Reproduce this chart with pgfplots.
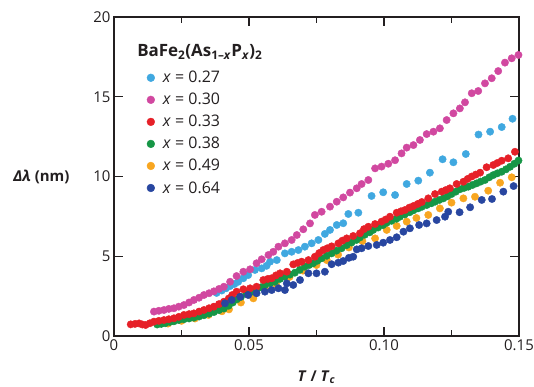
\documentclass[border=0pt]{standalone}
\usepackage{pgfplots}
\pgfplotsset{compat=1.18}
\usepackage{fontspec}
\setmainfont{Open Sans}
\definecolor{cLB}{RGB}{64,168,224}
\definecolor{cMG}{RGB}{209,72,160}
\definecolor{cRD}{RGB}{230,32,40}
\definecolor{cGN}{RGB}{22,150,70}
\definecolor{cOR}{RGB}{248,166,32}
\definecolor{cDB}{RGB}{40,70,160}
\definecolor{ink}{RGB}{35,31,32}
\begin{document}
\begin{tikzpicture}
\useasboundingbox (-114bp,-51bp) rectangle (420bp,336bp);
\begin{axis}[
  scale only axis, width=405bp, height=319bp,
  xmin=0, xmax=0.15, ymin=0, ymax=20,
  xtick={0,0.05,0.1,0.15}, xticklabels={0,0.05,0.10,0.15},
  minor xtick={0.025,0.075,0.125},
  ytick={0,5,10,15,20},
  tick align=inside,
  major tick length=9bp, minor tick length=6bp,
  axis line style={line width=1.2pt, draw=ink},
  every tick/.style={line width=1.1pt, draw=ink},
  ticklabel style={font=\fontsize{15}{18}\selectfont, text=ink},
  /pgf/number format/assume math mode=true,
  xlabel={\textbf{\textit{T} / \textit{T}\textsubscript{\textit{c}}}},
  xlabel style={font=\fontsize{15}{18}\selectfont, text=ink, at={(rel axis cs:0.5,0)}, anchor=center, yshift=-41bp},
  ylabel={\textbf{\textit{Δλ} (nm)}},
  ylabel style={font=\fontsize{15}{18}\selectfont, text=ink, rotate=-90, at={(rel axis cs:0,0.5)}, anchor=east, xshift=-41bp},
  legend image code/.code={\fill[#1] (0bp,0bp) circle (3.9bp);},
  legend style={at={(rel axis cs:0.073,0.843)}, anchor=north west, draw=none, fill=none,
    font=\fontsize{16}{19}\selectfont, text=ink, row sep=5bp,
    nodes={inner xsep=8bp}},
  legend cell align=left,
  every axis plot/.append style={only marks, mark=*, mark size=3.7pt},
]
\addlegendimage{color=cLB}
\addlegendentry{\textit{x} = 0.27}
\addlegendimage{color=cMG}
\addlegendentry{\textit{x} = 0.30}
\addlegendimage{color=cRD}
\addlegendentry{\textit{x} = 0.33}
\addlegendimage{color=cGN}
\addlegendentry{\textit{x} = 0.38}
\addlegendimage{color=cOR}
\addlegendentry{\textit{x} = 0.49}
\addlegendimage{color=cDB}
\addlegendentry{\textit{x} = 0.64}

% x = 0.49 (orange)
\addplot[color=cOR, forget plot] coordinates {
(0.0200,0.78)(0.0250,0.95)(0.0300,1.10)(0.0350,1.32)(0.0400,1.55)(0.0426,1.67)
(0.0470,2.10)(0.0516,2.36)(0.0560,2.95)(0.0600,3.25)(0.0650,3.70)(0.0700,4.10)
(0.0750,4.45)(0.0788,4.76)(0.0830,5.10)(0.0870,5.55)(0.0920,5.95)(0.0967,6.12)
(0.1010,6.65)(0.1047,6.90)(0.1084,7.17)(0.1120,7.40)(0.1164,7.59)(0.1207,8.00)
(0.1250,8.36)(0.1294,8.63)(0.1337,8.73)(0.1386,9.11)(0.1430,9.61)(0.1473,9.95)
};
% x = 0.38 (green)
\addplot[color=cGN, forget plot] coordinates {
(0.0160,0.72)(0.0175,0.76)(0.0190,0.80)(0.0207,0.88)(0.0222,0.92)(0.0240,1.00)
(0.0259,1.05)(0.0278,1.10)(0.0296,1.15)(0.0315,1.22)(0.0333,1.30)(0.0352,1.40)
(0.0370,1.50)(0.0389,1.62)(0.0407,1.72)(0.0425,1.90)(0.0440,2.10)(0.0455,2.30)
(0.0470,2.45)(0.0491,2.65)(0.0510,2.78)(0.0528,2.93)(0.0544,3.05)(0.0559,3.20)
(0.0578,3.30)(0.0596,3.40)(0.0615,3.58)(0.0633,3.72)(0.0652,3.85)(0.0670,3.97)
(0.0688,4.15)(0.0707,4.35)(0.0723,4.45)(0.0738,4.56)(0.0754,4.72)(0.0769,4.87)
(0.0788,5.03)(0.0806,5.18)(0.0824,5.35)(0.0843,5.50)(0.0862,5.70)(0.0880,5.86)
(0.0898,6.02)(0.0911,6.18)(0.0929,6.35)(0.0947,6.50)(0.0960,6.65)(0.0978,6.80)
(0.0996,6.95)(0.1010,7.10)(0.1028,7.22)(0.1046,7.35)(0.1059,7.48)(0.1077,7.62)
(0.1095,7.76)(0.1109,7.88)(0.1126,8.00)(0.1140,8.10)(0.1158,8.21)(0.1175,8.32)
(0.1189,8.42)(0.1205,8.53)(0.1220,8.63)(0.1235,8.76)(0.1250,8.90)(0.1266,9.05)
(0.1281,9.20)(0.1296,9.28)(0.1312,9.36)(0.1328,9.47)(0.1343,9.57)(0.1358,9.68)
(0.1374,9.78)(0.1390,9.95)(0.1405,10.09)(0.1420,10.20)(0.1436,10.30)(0.1452,10.45)
(0.1467,10.61)(0.1483,10.80)(0.1498,11.00)
};
% x = 0.33 (red)
\addplot[color=cRD, forget plot] coordinates {
(0.0062,0.73)(0.0078,0.76)(0.0093,0.79)(0.0105,0.72)(0.0117,0.69)(0.0133,0.80)
(0.0148,0.90)(0.0166,0.95)(0.0185,1.00)(0.0203,1.05)(0.0222,1.11)(0.0240,1.20)
(0.0259,1.32)(0.0278,1.37)(0.0296,1.42)(0.0315,1.53)(0.0333,1.63)(0.0352,1.74)
(0.0370,1.84)(0.0389,2.00)(0.0407,2.15)(0.0425,2.35)(0.0438,2.57)(0.0454,2.78)
(0.0479,2.93)(0.0504,2.99)(0.0528,3.09)(0.0553,3.51)(0.0570,3.58)(0.0584,3.62)
(0.0600,3.80)(0.0615,3.93)(0.0640,4.03)(0.0664,4.49)(0.0680,4.58)(0.0695,4.66)
(0.0720,4.76)(0.0744,4.97)(0.0760,5.20)(0.0775,5.39)(0.0790,5.50)(0.0806,5.62)
(0.0831,5.81)(0.0846,5.98)(0.0862,6.12)(0.0886,6.27)(0.0911,6.44)(0.0926,6.70)
(0.0942,6.85)(0.0967,7.02)(0.0991,7.17)(0.1006,7.30)(0.1022,7.48)(0.1047,7.73)
(0.1063,7.82)(0.1078,7.90)(0.1094,8.05)(0.1109,8.15)(0.1125,8.28)(0.1140,8.40)
(0.1164,8.63)(0.1189,8.90)(0.1214,9.05)(0.1229,9.15)(0.1244,9.26)(0.1269,9.53)
(0.1294,9.67)(0.1310,9.85)(0.1325,10.00)(0.1340,10.12)(0.1356,10.24)(0.1380,10.58)
(0.1405,10.72)(0.1420,10.85)(0.1436,10.99)(0.1460,11.14)(0.1485,11.55)
};
% x = 0.64 (dark blue)
\addplot[color=cDB, forget plot] coordinates {
(0.0411,2.05)(0.0436,2.26)(0.0467,2.46)(0.0497,2.57)(0.0528,2.68)(0.0559,2.78)
(0.0584,2.88)(0.0609,2.99)(0.0633,2.88)(0.0640,3.30)(0.0664,3.20)(0.0689,3.51)
(0.0720,3.93)(0.0750,3.93)(0.0781,4.03)(0.0806,4.50)(0.0831,4.60)(0.0849,4.70)
(0.0870,4.90)(0.0886,4.97)(0.0899,5.43)(0.0917,5.50)(0.0942,5.64)(0.0973,5.71)
(0.0997,5.85)(0.1022,6.02)(0.1047,6.19)(0.1072,6.54)(0.1096,6.75)(0.1130,6.96)
(0.1158,7.06)(0.1195,7.27)(0.1226,7.48)(0.1238,7.79)(0.1280,7.76)(0.1319,8.07)
(0.1362,8.53)(0.1400,8.59)(0.1442,9.05)(0.1480,9.40)
};
% x = 0.27 (light blue)
\addplot[color=cLB, forget plot] coordinates {
(0.0380,2.70)(0.0399,2.85)(0.0415,2.99)(0.0430,3.13)(0.0446,3.26)(0.0460,3.40)
(0.0479,3.62)(0.0497,3.82)(0.0522,4.14)(0.0547,4.24)(0.0565,4.40)(0.0578,4.66)
(0.0603,4.76)(0.0633,5.18)(0.0658,5.28)(0.0683,5.39)(0.0707,5.60)(0.0732,5.81)
(0.0757,6.02)(0.0781,6.40)(0.0800,6.65)(0.0825,6.96)(0.0849,7.07)(0.0868,7.65)
(0.0905,7.73)(0.0954,8.78)(0.0997,9.01)(0.1041,8.84)(0.1084,9.53)(0.1127,9.74)
(0.1170,10.24)(0.1217,11.08)(0.1257,10.89)(0.1303,11.41)(0.1350,12.63)(0.1393,12.81)
(0.1436,13.10)(0.1476,13.62)
};
% x = 0.30 (magenta)
\addplot[color=cMG, forget plot] coordinates {
(0.0148,1.53)(0.0166,1.58)(0.0185,1.63)(0.0203,1.70)(0.0222,1.74)(0.0240,1.84)
(0.0259,1.94)(0.0278,2.10)(0.0296,2.26)(0.0315,2.40)(0.0333,2.57)(0.0352,2.68)
(0.0370,2.80)(0.0389,2.95)(0.0407,3.09)(0.0430,3.40)(0.0454,3.76)(0.0479,4.03)
(0.0504,4.18)(0.0528,4.56)(0.0547,4.81)(0.0572,5.08)(0.0590,5.28)(0.0609,5.60)
(0.0633,5.81)(0.0658,6.02)(0.0677,6.33)(0.0701,6.69)(0.0726,7.06)(0.0744,7.59)
(0.0769,7.79)(0.0800,8.11)(0.0825,8.42)(0.0849,8.69)(0.0874,8.99)(0.0899,9.26)
(0.0917,9.53)(0.0942,9.78)(0.0967,10.51)(0.0991,10.62)(0.1016,10.80)(0.1041,11.02)
(0.1065,11.45)(0.1084,11.81)(0.1109,11.97)(0.1133,12.29)(0.1158,12.66)(0.1183,12.81)
(0.1207,13.02)(0.1232,13.54)(0.1257,13.96)(0.1281,14.27)(0.1300,14.65)(0.1325,15.22)
(0.1349,15.36)(0.1374,15.84)(0.1399,16.16)(0.1423,16.61)(0.1448,17.14)(0.1473,17.41)
(0.1498,17.62)
};
\node[anchor=west, font=\fontsize{17}{20}\selectfont\bfseries, text=ink, inner sep=0pt]
  at (rel axis cs:0.057,0.89) {BaFe\textsubscript{2}(As\textsubscript{1–\textit{x}}P\textsubscript{\textit{x}})\textsubscript{2}};
\end{axis}
\end{tikzpicture}
\end{document}
